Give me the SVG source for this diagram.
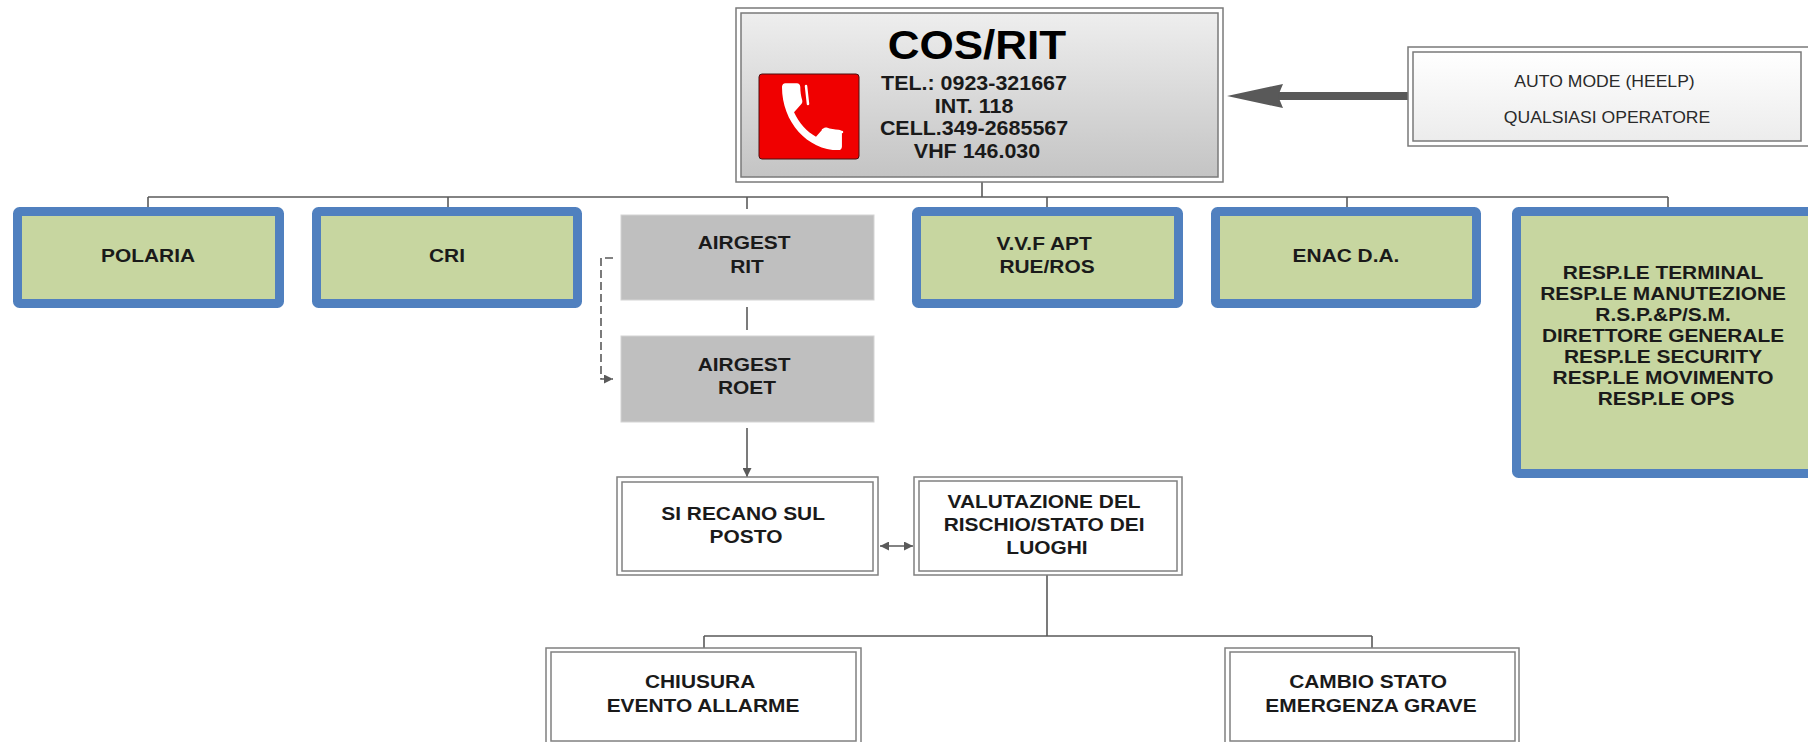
<svg xmlns="http://www.w3.org/2000/svg" width="1808" height="742" viewBox="0 0 1808 742">
<style>
.t{font-family:"Liberation Sans",Arial,sans-serif;font-weight:bold;font-size:19px;fill:#1a1a1a;text-anchor:middle}
.tr{font-family:"Liberation Sans",Arial,sans-serif;font-size:16px;fill:#2a2a2a;text-anchor:middle}
.blue{fill:#c7d6a0;stroke:#5080bf;stroke-width:9}
.gray{fill:#bfbfbf;stroke:#d4d4d4;stroke-width:1}
.dbl{fill:#ffffff;stroke:#808080;stroke-width:1.5}
.conn{fill:none;stroke:#5a5a5a;stroke-width:1.6}
</style>
<defs>
<linearGradient id="gCos" x1="0" y1="0" x2="0" y2="1">
<stop offset="0" stop-color="#eeeeee"/>
<stop offset="1" stop-color="#c4c4c4"/>
</linearGradient>
<linearGradient id="gAuto" x1="0" y1="0" x2="0" y2="1">
<stop offset="0" stop-color="#ffffff"/>
<stop offset="1" stop-color="#ececec"/>
</linearGradient>
<marker id="ah" viewBox="0 0 10 10" refX="10" refY="5" markerWidth="11" markerHeight="9" markerUnits="userSpaceOnUse" orient="auto-start-reverse">
<path d="M0,0 L10,5 L0,10 z" fill="#5a5a5a"/>
</marker>
</defs>

<g id="connectors">
<path class="conn" d="M148,197 H1668"/>
<path class="conn" d="M982,182 V197"/>
<path class="conn" d="M148,197 V207"/>
<path class="conn" d="M448,197 V207"/>
<path class="conn" d="M747,197 V209"/>
<path class="conn" d="M1047,197 V207"/>
<path class="conn" d="M1347,197 V207"/>
<path class="conn" d="M1668,197 V207"/>
<path class="conn" d="M747,307 V330"/>
<path class="conn" d="M747,428 V477" marker-end="url(#ah)"/>
<path class="conn" d="M613,258 H601 V379 H613" stroke-dasharray="8 4" marker-end="url(#ah)"/>
<path class="conn" d="M880,546 H913" marker-start="url(#ah)" marker-end="url(#ah)"/>
<path class="conn" d="M1047,575 V636 M704,636 H1372 M704,636 V648 M1372,636 V648"/>
<path d="M1408,96 H1278" stroke="#595959" stroke-width="8" fill="none"/>
<polygon points="1227,96 1283,84 1278,96 1283,108" fill="#595959"/>
</g>

<g id="cos-rit">
<rect x="736" y="8" width="487" height="174" fill="#ffffff" stroke="#7a7a7a" stroke-width="1.5"/>
<rect x="741" y="13" width="477" height="164" fill="url(#gCos)" stroke="#7a7a7a" stroke-width="1.5"/>
<rect x="759" y="74" width="100" height="85" rx="3" fill="#f00000" stroke="#4a1010" stroke-width="1"/>
<path transform="translate(772 72) scale(3.33 3.72)" fill="#ffffff" d="M6.62 10.79c1.44 2.83 3.76 5.14 6.59 6.590l2.2-2.2c.27-.27.67-.36 1.02-.24 1.12.37 2.33.57 3.57.57.55 0 1 .45 1 1V20c0 .55-.45 1-1 1-9.39 0-17-7.61-17-17 0-.55.45-1 1-1h3.5c.55 0 1 .45 1 1 0 1.25.2 2.45.57 3.57.11.35.03.74-.25 1.02l-2.2 2.2z"/>
<g stroke="#ffffff" stroke-width="2.5" stroke-linecap="round">
<path d="M806,86 L808,104"/>
<path d="M823,130 L842,132"/>
</g>
<text class="t" transform="translate(977 0) scale(1.1 1)" x="0" y="59" style="font-size:40px;fill:#000">COS/RIT</text>
<text class="t" transform="translate(977 0) scale(1.1 1)" style="font-size:19.5px">
<tspan x="0" y="90">TEL.: 0923-321667</tspan>
<tspan x="0" y="113">INT. 118</tspan>
<tspan x="0" y="135">CELL.349-2685567</tspan>
<tspan x="0" y="158">VHF 146.030</tspan>
</text>
</g>

<g id="auto-mode">
<rect x="1408" y="47" width="410" height="99" fill="#ffffff" stroke="#7a7a7a" stroke-width="1.5"/>
<rect x="1413" y="52" width="388" height="89" fill="url(#gAuto)" stroke="#7a7a7a" stroke-width="1.5"/>
<text class="tr" transform="translate(1607 0) scale(1.1 1)">
<tspan x="0" y="87">AUTO MODE (HEELP)</tspan>
<tspan x="0" y="123">QUALSIASI OPERATORE</tspan>
</text>
</g>

<g id="polaria">
<rect class="blue" x="17.5" y="211.5" width="262" height="92" rx="2"/>
<text class="t" transform="translate(148 0) scale(1.1 1)" x="0" y="262">POLARIA</text>
</g>

<g id="cri">
<rect class="blue" x="316.5" y="211.5" width="261" height="92" rx="2"/>
<text class="t" transform="translate(447 0) scale(1.1 1)" x="0" y="262">CRI</text>
</g>

<g id="airgest-rit">
<rect class="gray" x="621" y="215" width="253" height="85"/>
<text class="t" transform="translate(747 0) scale(1.1 1)">
<tspan x="0" y="249">AIRGEST</tspan>
<tspan x="0" y="273">RIT</tspan>
</text>
</g>

<g id="airgest-roet">
<rect class="gray" x="621" y="336" width="253" height="86"/>
<text class="t" transform="translate(747 0) scale(1.1 1)">
<tspan x="0" y="371">AIRGEST</tspan>
<tspan x="0" y="394">ROET</tspan>
</text>
</g>

<g id="vvf">
<rect class="blue" x="916.5" y="211.5" width="262" height="92" rx="2"/>
<text class="t" transform="translate(1047 0) scale(1.1 1)">
<tspan x="0" y="250">V.V.F APT</tspan>
<tspan x="0" y="273">RUE/ROS</tspan>
</text>
</g>

<g id="enac">
<rect class="blue" x="1215.5" y="211.5" width="261" height="92" rx="2"/>
<text class="t" transform="translate(1346 0) scale(1.1 1)" x="0" y="262">ENAC D.A.</text>
</g>

<g id="resp">
<rect class="blue" x="1516.5" y="211.5" width="303" height="262" rx="2"/>
<text class="t" transform="translate(1666 0) scale(1.1 1)">
<tspan x="0" y="279">RESP.LE TERMINAL</tspan>
<tspan x="0" y="300">RESP.LE MANUTEZIONE</tspan>
<tspan x="0" y="321">R.S.P.&amp;P/S.M.</tspan>
<tspan x="0" y="342">DIRETTORE GENERALE</tspan>
<tspan x="0" y="363">RESP.LE SECURITY</tspan>
<tspan x="0" y="384">RESP.LE MOVIMENTO</tspan>
<tspan x="0" y="405">RESP.LE OPS</tspan>
</text>
</g>

<g id="si-recano">
<rect class="dbl" x="617" y="477" width="261" height="98"/>
<rect class="dbl" x="622" y="482" width="251" height="89"/>
<text class="t" transform="translate(746 0) scale(1.1 1)">
<tspan x="0" y="520">SI RECANO SUL</tspan>
<tspan x="0" y="543">POSTO</tspan>
</text>
</g>

<g id="valutazione">
<rect class="dbl" x="914" y="477" width="268" height="98"/>
<rect class="dbl" x="919" y="481" width="258" height="90"/>
<text class="t" transform="translate(1047 0) scale(1.1 1)">
<tspan x="0" y="508">VALUTAZIONE DEL</tspan>
<tspan x="0" y="531">RISCHIO/STATO DEI</tspan>
<tspan x="0" y="554">LUOGHI</tspan>
</text>
</g>

<g id="chiusura">
<rect class="dbl" x="546" y="648" width="315" height="98"/>
<rect class="dbl" x="551" y="652" width="305" height="89"/>
<text class="t" transform="translate(703 0) scale(1.1 1)">
<tspan x="0" y="688">CHIUSURA</tspan>
<tspan x="0" y="712">EVENTO ALLARME</tspan>
</text>
</g>

<g id="cambio">
<rect class="dbl" x="1225" y="648" width="294" height="98"/>
<rect class="dbl" x="1230" y="652" width="285" height="89"/>
<text class="t" transform="translate(1371 0) scale(1.1 1)">
<tspan x="0" y="688">CAMBIO STATO</tspan>
<tspan x="0" y="712">EMERGENZA GRAVE</tspan>
</text>
</g>
</svg>
